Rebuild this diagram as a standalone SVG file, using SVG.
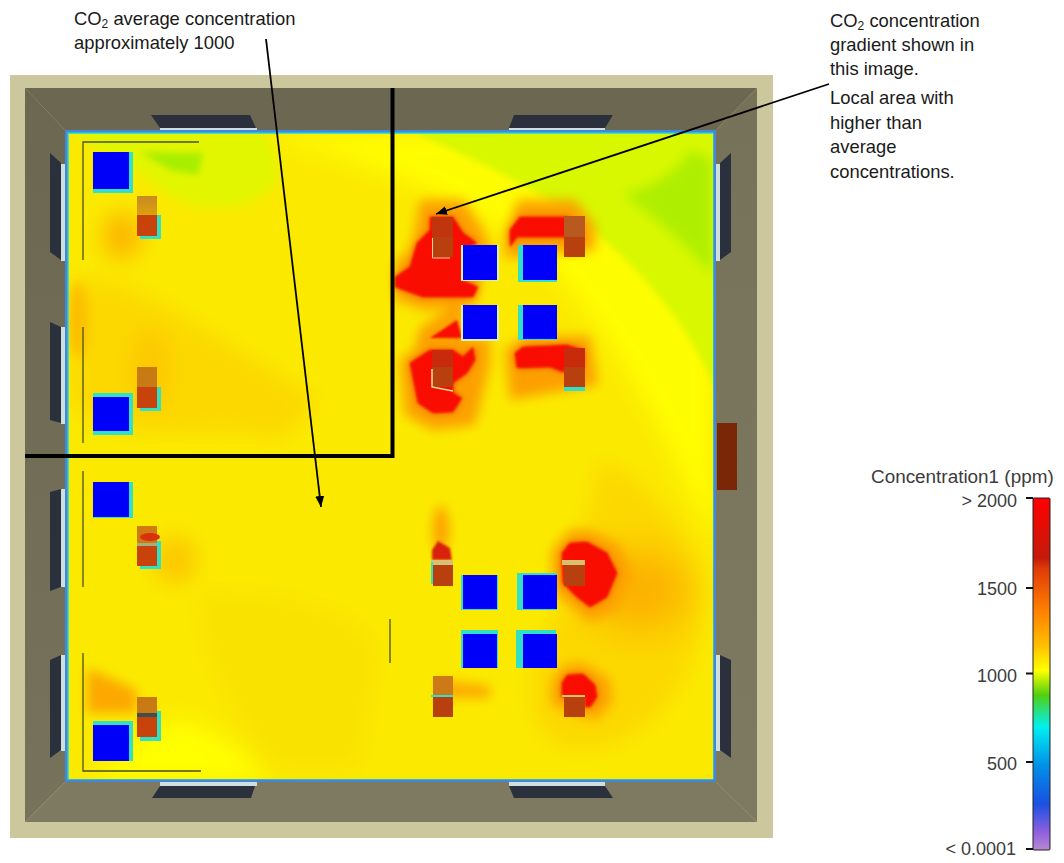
<svg xmlns="http://www.w3.org/2000/svg" width="1064" height="863" viewBox="0 0 1064 863">
<style>
.note{font-family:"Liberation Sans",Arial,sans-serif;font-size:18.400px;fill:#1a1a1a}
.leg{font-family:"Liberation Sans",Arial,sans-serif;font-size:18px;fill:#3c3c3c}
.r{text-anchor:end}
.win{fill:#2b303d}
.strip{fill:#cfdfe0}
.blue{fill:#0000fa}
.thin{stroke:#4a5030;stroke-width:1.300;fill:none}
.tick{stroke:#111;stroke-width:2}
.lo{fill:#c8430c}
.hi{fill:#b8400f}
.halo{fill:#30e0c8}
.pale{fill:#d8f0b0}
.red{fill:#f80800}
</style>
<defs>
<clipPath id="fc"><rect x="69" y="134" width="644" height="645"/></clipPath>
<filter id="b1" x="-30%" y="-30%" width="160%" height="160%"><feGaussianBlur stdDeviation="1.200"/></filter>
<filter id="b05" x="-30%" y="-30%" width="160%" height="160%"><feGaussianBlur stdDeviation="0.600"/></filter>
<filter id="b3" x="-50%" y="-50%" width="200%" height="200%"><feGaussianBlur stdDeviation="3"/></filter>
<filter id="b4" x="-50%" y="-50%" width="200%" height="200%"><feGaussianBlur stdDeviation="6"/></filter>
<filter id="b9" x="-50%" y="-50%" width="200%" height="200%"><feGaussianBlur stdDeviation="11"/></filter>
<filter id="b20" x="-60%" y="-60%" width="220%" height="220%"><feGaussianBlur stdDeviation="20"/></filter>
<linearGradient id="scale" x1="0" y1="0" x2="0" y2="1">
<stop offset="0" stop-color="#ff0000"/><stop offset=".17" stop-color="#c41a0a"/><stop offset=".2" stop-color="#e03a08"/><stop offset=".32" stop-color="#ff8000"/><stop offset=".42" stop-color="#ffc000"/><stop offset=".49" stop-color="#ffff00"/><stop offset=".56" stop-color="#50d010"/><stop offset=".65" stop-color="#00f0f0"/><stop offset=".76" stop-color="#0090e8"/><stop offset=".87" stop-color="#1a50e0"/><stop offset=".95" stop-color="#9060e0"/><stop offset="1" stop-color="#b888d0"/>
</linearGradient>
<linearGradient id="d1" x1="0" y1="0" x2="0" y2="1"><stop offset="0" stop-color="#c88a20"/><stop offset="1" stop-color="#dca010"/></linearGradient>
<linearGradient id="d2" x1="0" y1="0" x2="0" y2="1"><stop offset="0" stop-color="#c87a10"/><stop offset="1" stop-color="#c87a18"/></linearGradient>
<linearGradient id="wl" gradientUnits="userSpaceOnUse" x1="0" y1="88" x2="0" y2="822"><stop offset="0" stop-color="#6b6751"/><stop offset="1" stop-color="#76725c"/></linearGradient>
<linearGradient id="wr" gradientUnits="userSpaceOnUse" x1="0" y1="88" x2="0" y2="822"><stop offset="0" stop-color="#767259"/><stop offset="1" stop-color="#7e7a62"/></linearGradient>
<marker id="ah" markerUnits="userSpaceOnUse" markerWidth="12" markerHeight="10" refX="11" refY="4.500" orient="auto"><path d="M0 0L11 4.500L0 9z" fill="#000"/></marker>
</defs>

<g id="room">
<rect x="10" y="75" width="763" height="763" fill="#cdc79d"/>
<path d="M25 88H757L716 130H65z" fill="#6b6751"/>
<path d="M25 88L65 130V782L25 822z" fill="url(#wl)"/>
<path d="M757 88L716 130V782L757 822z" fill="url(#wr)"/>
<path d="M25 822L65 782H716L757 822z" fill="#7e7a62"/>
<rect x="717" y="423" width="20" height="67" fill="#7a2708"/>
<path class="win" d="M151 115H250L256 128H160z"/>
<path class="win" d="M514 115H613L605 128H509z"/>
<path class="win" d="M50 153L61 163V260L50 252z"/>
<path class="win" d="M50 322L61 327V423L50 420z"/>
<path class="win" d="M50 492L61 489V587L50 591z"/>
<path class="win" d="M50 660L61 655V750L50 758z"/>
<path class="win" d="M731 153L720 163V260L731 252z"/>
<path class="win" d="M731 660L720 655V750L731 758z"/>
<path class="win" d="M160 786H255L251 798H152z"/>
<path class="win" d="M509 786H605L613 798H514z"/>
<rect class="strip" x="160" y="128" width="97" height="3"/>
<rect class="strip" x="509" y="128" width="96" height="3"/>
<rect class="strip" x="160" y="782" width="97" height="4"/>
<rect class="strip" x="509" y="782" width="96" height="4"/>
<rect class="strip" x="61" y="164" width="5" height="97"/>
<rect class="strip" x="61" y="327" width="5" height="97"/>
<rect class="strip" x="61" y="489" width="5" height="98"/>
<rect class="strip" x="61" y="655" width="5" height="96"/>
<rect class="strip" x="716" y="164" width="4" height="97"/>
<rect class="strip" x="716" y="655" width="4" height="96"/>
</g>

<g id="floor">
<rect x="65" y="130" width="651" height="652" fill="#3f88dc"/>
<rect x="67.500" y="132.500" width="646" height="647" fill="#40e0c0"/>
<rect x="69" y="134" width="644" height="645" fill="#fbea00"/>
<g clip-path="url(#fc)">
<path d="M69 134H713V540C680 470 650 400 600 330C540 240 470 190 260 134z" fill="#ffff00" filter="url(#b9)" opacity=".9"/>
<path d="M600 460C650 480 700 530 700 620C690 720 600 770 550 740C510 700 540 640 570 590z" fill="#fcd800" filter="url(#b9)"/>
<path d="M400 125H720V400C690 320 620 240 540 195C490 165 440 145 400 125z" fill="#d8f800" filter="url(#b3)"/>
<path d="M69 125H260C285 160 290 190 240 205C200 212 170 200 150 180C120 160 90 150 69 125z" fill="#e2f600" filter="url(#b4)"/>
<path d="M140 152L203 153L198 175L170 170z" fill="#a8ee00" filter="url(#b3)"/>
<path d="M623 193C650 190 680 170 690 150L712 160V275C690 245 650 215 623 193z" fill="#a4ec00" filter="url(#b4)" opacity=".8"/>
<path d="M69 280C130 270 200 330 320 400L280 440C200 420 180 450 90 420L69 400z" fill="#fcd800" filter="url(#b9)"/>
<ellipse cx="122" cy="236" rx="20" ry="24" fill="#fcb800" filter="url(#b9)"/>
<ellipse cx="78" cy="320" rx="10" ry="38" fill="#fcbe00" filter="url(#b4)"/>
<ellipse cx="150" cy="370" rx="20" ry="40" fill="#fcc800" filter="url(#b9)"/>
<path d="M200 590C300 590 360 610 380 650L360 770H270C240 720 190 660 200 590z" fill="#f8dc00" filter="url(#b9)" opacity=".6"/>
<path d="M180 720C220 730 250 760 270 779H90C110 760 150 730 180 720z" fill="#ffff00" filter="url(#b9)"/>
<path d="M87 668L137 690V713H87z" fill="#fca800" filter="url(#b4)"/>
<ellipse cx="175" cy="560" rx="22" ry="24" fill="#fcc800" filter="url(#b9)"/>
<ellipse cx="640" cy="590" rx="50" ry="40" fill="#fcb000" filter="url(#b20)"/>
<g fill="#fca000" filter="url(#b4)">
<path d="M420 200H463L480 225L490 245L475 305L425 310L395 300V262L408 252L414 235z"/>
<path d="M505 232L518 200H575L595 225L595 250L505 258z"/>
<path d="M400 360L430 338H490L490 365L475 425L433 430L405 415z"/>
<path d="M505 350L525 336H590L598 385L510 400z"/>
<path d="M552 550L570 530H590L620 545L632 575L616 610L590 622L570 605L552 590z"/>
<path d="M552 680L567 664H585L610 680L612 702L596 720L552 705z"/>
<ellipse cx="441" cy="530" rx="8" ry="24"/>
<path d="M420 328L462 300L468 345L415 348z"/>
</g>
<g fill="#ee4000" filter="url(#b3)">
<path d="M430 217H453L463 233L477 243L462 250V280L478 287L473 297H423L395 287V277L410 267L417 243L430 230z"/>
<path d="M510 230L520 217H567L580 227V237H563H517L510 247z"/>
<path d="M410 363L430 350H453L463 357L473 347L475 360L467 373L453 383V393L462 398L453 412L433 413L418 403z"/>
<path d="M515 353L523 347L567 345L583 350V367L563 372L550 367L517 368z"/>
<path d="M562 553L570 543L587 542L607 553L617 573L607 597L590 607L577 597L563 583z"/>
<path d="M562 683L567 675L583 674L595 685L597 697L590 707L585 707V697H562z"/>
</g>
<path d="M440 680L490 686V698H440z" fill="#fca800" filter="url(#b4)"/>
<g class="red" filter="url(#b1)">
<path d="M430 217H453L463 233L477 243L462 250V280L478 287L473 297H423L395 287V277L410 267L417 243L430 230z"/>
<path d="M510 230L520 217H567L580 227V237H563H517L510 247z"/>
<path d="M430 338L457 320L462 338z"/>
<path d="M410 363L430 350H453L463 357L473 347L475 360L467 373L453 383V393L462 398L453 412L433 413L418 403z"/>
<path d="M515 353L523 347L567 345L583 350V367L563 372L550 367L517 368z"/>
<path d="M432 550L438 541L450 548L452 560H432z" fill="#d82408"/>
<path d="M562 553L570 543L587 542L607 553L617 573L607 597L590 607L577 597L563 583z"/>
<path d="M562 683L567 675L583 674L595 685L597 697L590 707L585 707V697H562z"/>
</g>
</g>
</g>

<g id="left-units">
<g filter="url(#b05)">
<rect class="halo" x="93" y="152" width="40" height="41"/>
<rect class="halo" x="93" y="393" width="40" height="42"/>
<rect class="halo" x="93" y="482" width="40" height="36"/>
<rect class="halo" x="93" y="721" width="40" height="40"/>
<rect class="halo" x="140" y="215" width="21" height="24"/><rect class="halo" x="140" y="387" width="21" height="24"/><rect class="halo" x="140" y="541" width="21" height="28"/><rect class="halo" x="140" y="711" width="21" height="30"/>
</g>
<rect class="blue" x="93" y="152" width="36" height="37"/>
<rect class="blue" x="93" y="397" width="36" height="34"/>
<rect class="blue" x="93" y="482" width="36" height="35"/>
<rect class="blue" x="93" y="725" width="36" height="36"/>
<rect x="137" y="196" width="20" height="19" fill="url(#d1)"/><rect class="lo" x="137" y="215" width="20" height="21"/>
<rect x="137" y="367" width="20" height="20" fill="url(#d2)"/><rect class="lo" x="137" y="387" width="20" height="21"/>
<rect x="137" y="526" width="20" height="17" fill="#d07a10"/><rect x="137" y="543" width="20" height="3" fill="#a0b080"/><rect class="lo" x="137" y="546" width="20" height="20"/>
<rect x="137" y="697" width="20" height="16" fill="url(#d2)"/><rect x="137" y="713" width="20" height="4" fill="#405048"/><rect class="lo" x="137" y="717" width="20" height="20"/>
<ellipse cx="150" cy="537" rx="10" ry="4" fill="#d8300a" filter="url(#b05)"/>
</g>

<g id="right-units">
<g filter="url(#b05)">
<rect class="pale" x="461" y="245" width="38" height="36"/><rect class="halo" x="518" y="245" width="39" height="37"/>
<rect class="pale" x="461" y="305" width="38" height="36"/><rect class="halo" x="518" y="305" width="39" height="35"/>
<rect class="halo" x="461" y="575" width="37" height="35"/><rect class="halo" x="517" y="573" width="40" height="37"/>
<rect class="halo" x="461" y="630" width="37" height="38"/><rect class="halo" x="516" y="630" width="40" height="38"/>
<rect class="halo" x="564" y="387" width="21" height="4"/>
</g>
<rect class="blue" x="463" y="245" width="34" height="35"/><rect class="blue" x="523" y="245" width="34" height="35"/>
<rect class="blue" x="463" y="305" width="34" height="34"/><rect class="blue" x="523" y="305" width="34" height="34"/>
<rect class="blue" x="463" y="575" width="34" height="34"/><rect class="blue" x="523" y="575" width="34" height="34"/>
<rect class="blue" x="463" y="634" width="34" height="34"/><rect class="blue" x="523" y="634" width="34" height="34"/>
<rect x="432" y="217" width="21" height="20" fill="#c0340e"/><rect class="hi" x="432" y="237" width="21" height="20"/>
<path d="M432.500 238V258H450" fill="none" stroke="#f0d0a0" stroke-width="1"/>
<rect x="564" y="216" width="21" height="21" fill="#b85a20"/><rect class="hi" x="564" y="237" width="21" height="20"/>
<rect x="432" y="350" width="21" height="17" fill="#c82a0c"/><rect class="hi" x="432" y="367" width="21" height="20"/>
<path d="M432 369V387L453 391" fill="none" stroke="#f0e0a0" stroke-width="1.500"/>
<rect x="564" y="348" width="21" height="19" fill="#c82a0c"/><rect class="hi" x="564" y="367" width="21" height="20"/>
<rect x="431" y="560" width="22" height="5" fill="#d8c070"/><rect x="431" y="562" width="2" height="22" fill="#30e0c8"/><rect class="hi" x="433" y="565" width="20" height="21"/>
<rect x="562" y="560" width="23" height="5" fill="#d8c070"/><rect class="hi" x="564" y="565" width="21" height="21"/>
<rect x="433" y="676" width="20" height="19" fill="#cc7a18"/><rect x="431" y="695" width="22" height="2" fill="#30e0c8"/><rect class="hi" x="433" y="697" width="20" height="20"/>
<rect x="562" y="695" width="23" height="2" fill="#d8c070"/><rect class="hi" x="564" y="697" width="21" height="20"/>
</g>

<g id="partitions">
<path class="thin" d="M83 260V142H199"/>
<path class="thin" d="M83 327V443"/>
<path class="thin" d="M83 471V587"/>
<path class="thin" d="M83 653V771H201"/>
<path class="thin" d="M390 619V663"/>
<path d="M392.500 88V456H25" fill="none" stroke="#000" stroke-width="4"/>
</g>

<g id="connectors" fill="none" stroke="#000" stroke-width="1.800">
<line x1="266" y1="39" x2="321" y2="507" marker-end="url(#ah)"/>
<line x1="829" y1="84" x2="436" y2="214" marker-end="url(#ah)"/>
</g>

<g id="note-average">
<text class="note" x="74" y="24.500">CO<tspan font-size="12" dy="3">2</tspan><tspan dy="-3"> average concentration</tspan></text>
<text class="note" x="74" y="49">approximately 1000</text>
</g>
<g id="note-gradient">
<text class="note" x="830" y="26.500">CO<tspan font-size="12" dy="3">2</tspan><tspan dy="-3"> concentration</tspan></text>
<text class="note" x="830" y="51">gradient shown in</text>
<text class="note" x="830" y="75">this image.</text>
<text class="note" x="830" y="104">Local area with</text>
<text class="note" x="830" y="129">higher than</text>
<text class="note" x="830" y="153">average</text>
<text class="note" x="830" y="178">concentrations.</text>
</g>

<g id="legend">
<text class="leg" x="871" y="483" font-size="18.900" style="font-size:18.900px">Concentration1 (ppm)</text>
<rect x="1033" y="498" width="17" height="352" rx="1" fill="url(#scale)" stroke="#222" stroke-width="1"/>
<line class="tick" x1="1026" y1="498" x2="1033" y2="498"/>
<line class="tick" x1="1026" y1="588" x2="1033" y2="588"/>
<line class="tick" x1="1026" y1="673.500" x2="1033" y2="673.500"/>
<line class="tick" x1="1026" y1="762" x2="1033" y2="762"/>
<line class="tick" x1="1026" y1="849" x2="1033" y2="849"/>
<text class="leg r" x="1017" y="507">&gt; 2000</text>
<text class="leg r" x="1017" y="595">1500</text>
<text class="leg r" x="1017" y="682">1000</text>
<text class="leg r" x="1017" y="770">500</text>
<text class="leg r" x="1016" y="855">&lt; 0.0001</text>
</g>
</svg>
